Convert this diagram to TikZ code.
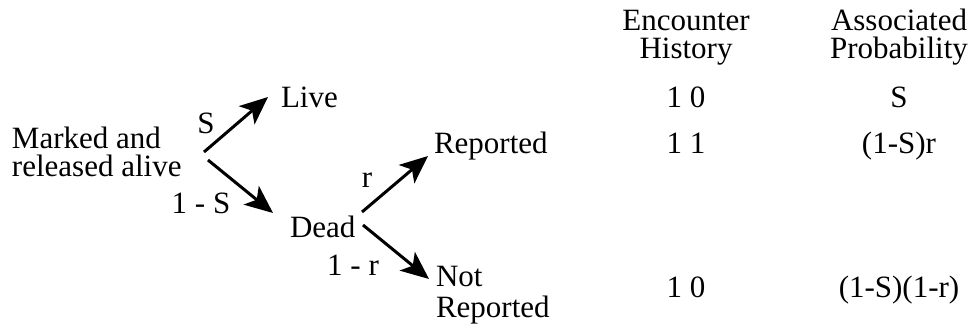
\documentclass[tikz,border=0pt]{standalone}
\usepackage{fontspec}
\setmainfont{Liberation Serif}
\usetikzlibrary{arrows.meta}
\begin{document}
\begin{tikzpicture}[x=1pt,y=-1pt,
  lbl/.style={inner sep=0pt, outer sep=0pt, font=\fontsize{31}{28}\selectfont},
  arr/.style={line width=3pt, -{Stealth[length=28pt,width=24pt,inset=7pt]}}]
\useasboundingbox[fill=white] (0,0) rectangle (974,325);
% tree labels (base anchor of a multi-line node = last line)
\node[lbl, anchor=base west, align=left] (root) at (12,176) {Marked and\\released alive};
\node[lbl, anchor=base west] (live) at (281,107) {Live};
\node[lbl, anchor=base west] (dead) at (290,237) {Dead};
\node[lbl, anchor=base west] (rep) at (434,153) {Reported};
\node[lbl, anchor=base west, align=left, font=\fontsize{31}{31}\selectfont] (notrep) at (436,317) {Not\\Reported};
% branch labels
\node[lbl, anchor=base] (lS) at (206,133) {S};
\node[lbl, anchor=base] (l1S) at (201,213) {1 - S};
\node[lbl, anchor=base] (lr) at (367,187) {r};
\node[lbl, anchor=base] (l1r) at (353,275) {1 - r};
% table
\node[lbl, anchor=base, align=center] (hEnc) at (686,58) {Encounter\\History};
\node[lbl, anchor=base, align=center] (hAss) at (899,58) {Associated\\Probability};
\node[lbl, anchor=base] (e1) at (686,107) {1 0};
\node[lbl, anchor=base] (e2) at (686,153) {1 1};
\node[lbl, anchor=base] (e3) at (686,297) {1 0};
\node[lbl, anchor=base] (p1) at (899,107) {S};
\node[lbl, anchor=base] (p2) at (899,153) {(1-S)r};
\node[lbl, anchor=base] (p3) at (899,297) {(1-S)(1-r)};
% arrows
\coordinate (a1s) at (204,152); \coordinate (a1e) at (268,97);
\coordinate (a2s) at (208,160); \coordinate (a2e) at (273,213);
\coordinate (a3s) at (362,212); \coordinate (a3e) at (428,156);
\coordinate (a4s) at (363,225); \coordinate (a4e) at (429,279);
\draw[arr] (a1s) -- (a1e);
\draw[arr] (a2s) -- (a2e);
\draw[arr] (a3s) -- (a3e);
\draw[arr] (a4s) -- (a4e);
\end{tikzpicture}
\end{document}
